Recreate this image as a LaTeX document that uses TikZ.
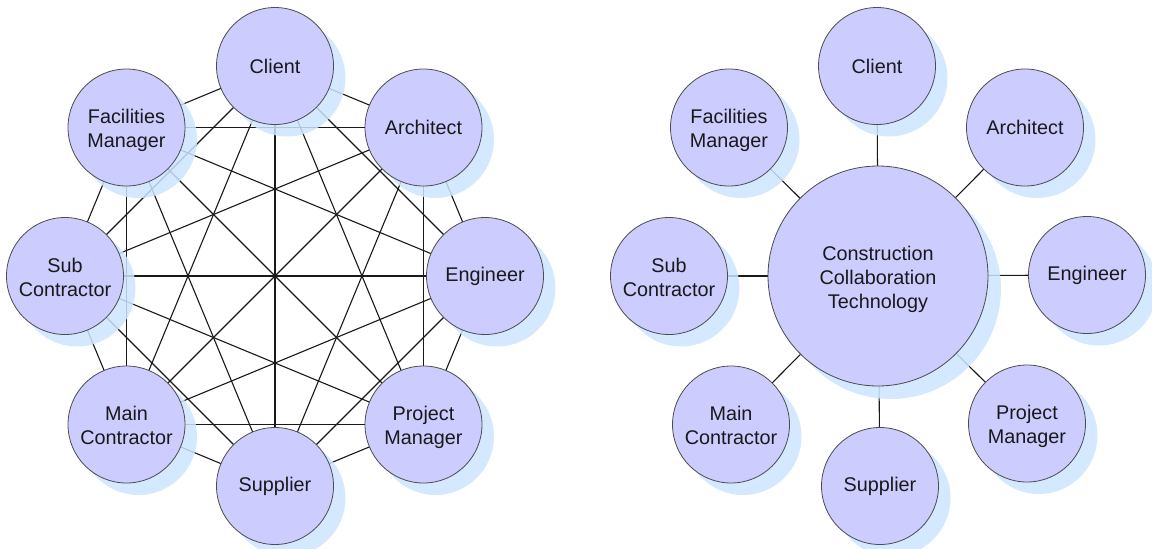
\documentclass[tikz,border=0pt]{standalone}
\usepackage{fontspec}
\setmainfont{Liberation Sans}
\pgfdeclarelayer{edges}
\pgfdeclarelayer{shade}
\pgfsetlayers{edges,shade,main}
\definecolor{nodefill}{HTML}{CCCCFF}
\definecolor{shadowc}{HTML}{CCE5FF}
\newcommand\lowlines[1]{\raisebox{-3.5pt}[\height][\depth]{\begin{tabular}{@{}c@{}}#1\end{tabular}}}
\tikzset{
  party/.style={circle, draw=black!70, line width=0.8pt, fill=nodefill,
    minimum size=117pt, inner sep=0pt, align=center,
    font=\fontsize{19.8}{24}\selectfont, text=black!90},
  hub/.style={party, minimum size=220pt},
  link/.style={line width=1.1pt, black!90},
  shadowfill/.style={fill=shadowc, fill opacity=0.85}
}
\begin{document}
\begin{tikzpicture}[x=1pt,y=-1pt]
\useasboundingbox (0,0) rectangle (1152,549);
% ---------- left: everyone to everyone ----------
\node[party] (lc) at (275,66)  {Client};
\node[party] (la) at (423.5,127.5) {Architect};
\node[party] (le) at (485,276) {Engineer};
\node[party] (lp) at (423.5,424.5) {\lowlines{Project\\Manager}};
\node[party] (ls) at (275,486) {Supplier};
\node[party] (lm) at (126.5,424.5) {\lowlines{Main\\Contractor}};
\node[party] (lsc) at (65,276) {\lowlines{Sub\\Contractor}};
\node[party] (lf) at (126.5,127.5) {\lowlines{Facilities\\Manager}};
% ---------- right: hub ----------
\node[hub] (hub) at (878,276) {\lowlines{Construction\\Collaboration\\Technology}};
\node[party] (rc) at (877,66)  {Client};
\node[party] (ra) at (1025,127.5) {Architect};
\node[party] (re) at (1087,275) {Engineer};
\node[party] (rp) at (1027,423.5) {\lowlines{Project\\Manager}};
\node[party] (rs) at (880,486) {Supplier};
\node[party] (rm) at (731,424.5) {\lowlines{Main\\Contractor}};
\node[party] (rsc) at (669,276) {\lowlines{Sub\\Contractor}};
\node[party] (rf) at (729,127.5) {\lowlines{Facilities\\Manager}};
% shadows
\begin{pgfonlayer}{shade}
  \foreach \n in {lc,la,le,lp,ls,lm,lsc,lf,rc,ra,re,rp,rs,rm,rsc,rf}
    \fill[shadowfill] ([shift={(12pt,-12pt)}]\n.center) circle[radius=58.5pt];
  \fill[shadowfill] ([shift={(13pt,-13pt)}]hub.center) circle[radius=110pt];
\end{pgfonlayer}
% edges
\begin{pgfonlayer}{edges}
  \foreach \a/\rest in {lc/{la,le,lp,ls,lm,lsc,lf}, la/{le,lp,ls,lm,lsc,lf},
      le/{lp,ls,lm,lsc,lf}, lp/{ls,lm,lsc,lf}, ls/{lm,lsc,lf}, lm/{lsc,lf}, lsc/{lf}}
    \foreach \b in \rest
      \draw[link] (\a.center) -- (\b.center);
  \foreach \b in {rc,ra,re,rp,rs,rm,rsc,rf}
    \draw[link] (hub.center) -- (\b.center);
\end{pgfonlayer}
\end{tikzpicture}
\end{document}
